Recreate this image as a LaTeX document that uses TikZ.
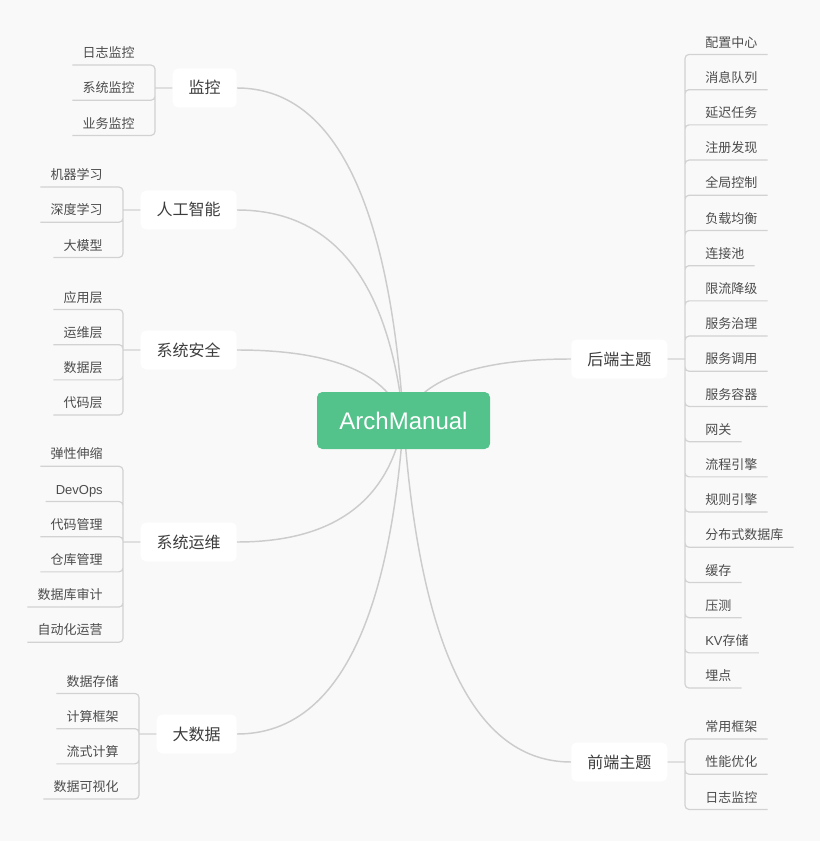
\documentclass[tikz,border=0pt]{standalone}
\usepackage{fontspec}
\setmainfont{Noto Sans CJK SC}
\newfontfamily\latfont{Liberation Sans}
\usepackage{tikz}
\usetikzlibrary{calc, backgrounds}

\definecolor{rootgreen}{RGB}{83,194,139}
\definecolor{paper}{RGB}{249,249,249}

\begin{document}
\begin{tikzpicture}[x=0.75pt, y=-0.75pt]
	\tikzstyle{root} = [fill=rootgreen, rounded corners=4pt, minimum width=129.75pt, minimum height=42.75pt, text=white, font=\latfont\fontsize{18pt}{20pt}\selectfont, text height=13pt, text depth=0pt]
	\tikzstyle{topic} = [fill=white, rounded corners=4pt, inner xsep=12pt, inner ysep=0pt, minimum height=29.25pt, text=black!76, font=\fontsize{12pt}{14pt}\selectfont, text height=9.6pt, text depth=0.6pt]
	\tikzstyle{leaf} = [inner xsep=7.5pt, inner ysep=0pt, minimum height=18pt, text=black!70, font=\fontsize{9.75pt}{11pt}\selectfont, text height=7.8pt, text depth=0.5pt]
	\tikzstyle{leafl} = [leaf, anchor=east]
	\tikzstyle{leafr} = [leaf, anchor=west]
	\tikzstyle{stem} = [draw=gray!40, line width=1.1pt]
	\tikzstyle{twig} = [draw=gray!35, line width=0.9pt, rounded corners=3pt]

	% centre and main topics
	\path
		node[root] (r) at (403.5,420.5) {ArchManual}
		node[topic, anchor=east] (b1) at (237,88) {监控}
		node[topic, anchor=east] (b2) at (237,210) {人工智能}
		node[topic, anchor=east] (b3) at (237,350) {系统安全}
		node[topic, anchor=east] (b4) at (237,542) {系统运维}
		node[topic, anchor=east] (b5) at (237,734) {大数据}
		node[topic, anchor=west] (b6) at (571,359) {后端主题}
		node[topic, anchor=west] (b7) at (571,762) {前端主题}
	;

	\begin{pgfonlayer}{background}
		\fill[paper] (0,0) rectangle (820,841);
		\draw[stem] (b1.east) .. controls ($(b1.east)+(96,0)$) and ($(r.center)+(-14.7,-221.3)$) .. (r.center);
		\draw[stem] (b2.east) .. controls ($(b2.east)+(96,0)$) and ($(r.center)+(-14.7,-140)$) .. (r.center);
		\draw[stem] (b3.east) .. controls ($(b3.east)+(96,0)$) and ($(r.center)+(-14.7,-46.7)$) .. (r.center);
		\draw[stem] (b4.east) .. controls ($(b4.east)+(96,0)$) and ($(r.center)+(-14.7,81.3)$) .. (r.center);
		\draw[stem] (b5.east) .. controls ($(b5.east)+(96,0)$) and ($(r.center)+(-14.7,209.3)$) .. (r.center);
		\draw[stem] (b6.west) .. controls ($(b6.west)+(-96,0)$) and ($(r.center)+(16,-40.7)$) .. (r.center);
		\draw[stem] (b7.west) .. controls ($(b7.west)+(-96,0)$) and ($(r.center)+(16,228)$) .. (r.center);
	\end{pgfonlayer}

	% monitoring
	\coordinate (j1) at (155,88);
	\path
		node[leafl] (b1-1) at (145,52.8) {日志监控}
		node[leafl] (b1-2) at (145,88) {系统监控}
		node[leafl] (b1-3) at (145,123.2) {业务监控}
	;
	\draw[twig] (j1) -- (b1.west) (j1) |- (b1-1.south west) (j1) |- (b1-2.south west) (j1) |- (b1-3.south west);

	% ai
	\coordinate (j2) at (123,210);
	\path
		node[leafl] (b2-1) at (113,174.8) {机器学习}
		node[leafl] (b2-2) at (113,210) {深度学习}
		node[leafl] (b2-3) at (113,245.2) {大模型}
	;
	\draw[twig] (j2) -- (b2.west) (j2) |- (b2-1.south west) (j2) |- (b2-2.south west) (j2) |- (b2-3.south west);

	% security
	\coordinate (j3) at (123,350);
	\path
		node[leafl] (b3-1) at (113,297.2) {应用层}
		node[leafl] (b3-2) at (113,332.4) {运维层}
		node[leafl] (b3-3) at (113,367.6) {数据层}
		node[leafl] (b3-4) at (113,402.8) {代码层}
	;
	\draw[twig] (j3) -- (b3.west) (j3) |- (b3-1.south west) (j3) |- (b3-2.south west) (j3) |- (b3-3.south west) (j3) |- (b3-4.south west);

	% operations
	\coordinate (j4) at (123,542);
	\path
		node[leafl] (b4-1) at (113,454) {弹性伸缩}
		node[leafl] (b4-2) at (113,489.2) {\latfont DevOps}
		node[leafl] (b4-3) at (113,524.4) {代码管理}
		node[leafl] (b4-4) at (113,559.6) {仓库管理}
		node[leafl] (b4-5) at (113,594.8) {数据库审计}
		node[leafl] (b4-6) at (113,630) {自动化运营}
	;
	\draw[twig] (j4) -- (b4.west) (j4) |- (b4-1.south west) (j4) |- (b4-2.south west) (j4) |- (b4-3.south west)
		(j4) |- (b4-4.south west) (j4) |- (b4-5.south west) (j4) |- (b4-6.south west);

	% big data
	\coordinate (j5) at (139,734);
	\path
		node[leafl] (b5-1) at (129,681.2) {数据存储}
		node[leafl] (b5-2) at (129,716.4) {计算框架}
		node[leafl] (b5-3) at (129,751.6) {流式计算}
		node[leafl] (b5-4) at (129,786.8) {数据可视化}
	;
	\draw[twig] (j5) -- (b5.west) (j5) |- (b5-1.south west) (j5) |- (b5-2.south west) (j5) |- (b5-3.south west) (j5) |- (b5-4.south west);

	% backend
	\coordinate (j6) at (685,359);
	\path
		node[leafr] (b6-1) at (695,42.2) {配置中心}
		node[leafr] (b6-2) at (695,77.4) {消息队列}
		node[leafr] (b6-3) at (695,112.6) {延迟任务}
		node[leafr] (b6-4) at (695,147.8) {注册发现}
		node[leafr] (b6-5) at (695,183) {全局控制}
		node[leafr] (b6-6) at (695,218.2) {负载均衡}
		node[leafr] (b6-7) at (695,253.4) {连接池}
		node[leafr] (b6-8) at (695,288.6) {限流降级}
		node[leafr] (b6-9) at (695,323.8) {服务治理}
		node[leafr] (b6-10) at (695,359) {服务调用}
		node[leafr] (b6-11) at (695,394.2) {服务容器}
		node[leafr] (b6-12) at (695,429.4) {网关}
		node[leafr] (b6-13) at (695,464.6) {流程引擎}
		node[leafr] (b6-14) at (695,499.8) {规则引擎}
		node[leafr] (b6-15) at (695,535) {分布式数据库}
		node[leafr] (b6-16) at (695,570.2) {缓存}
		node[leafr] (b6-17) at (695,605.4) {压测}
		node[leafr] (b6-18) at (695,640.6) {{\latfont KV}存储}
		node[leafr] (b6-19) at (695,675.8) {埋点}
	;
	\draw[twig] (j6) -- (b6.east)
		(j6) |- (b6-1.south east) (j6) |- (b6-2.south east) (j6) |- (b6-3.south east) (j6) |- (b6-4.south east)
		(j6) |- (b6-5.south east) (j6) |- (b6-6.south east) (j6) |- (b6-7.south east) (j6) |- (b6-8.south east)
		(j6) |- (b6-9.south east) (j6) |- (b6-10.south east) (j6) |- (b6-11.south east) (j6) |- (b6-12.south east)
		(j6) |- (b6-13.south east) (j6) |- (b6-14.south east) (j6) |- (b6-15.south east) (j6) |- (b6-16.south east)
		(j6) |- (b6-17.south east) (j6) |- (b6-18.south east) (j6) |- (b6-19.south east);

	% frontend
	\coordinate (j7) at (685,762);
	\path
		node[leafr] (b7-1) at (695,726.8) {常用框架}
		node[leafr] (b7-2) at (695,762) {性能优化}
		node[leafr] (b7-3) at (695,797.2) {日志监控}
	;
	\draw[twig] (j7) -- (b7.east) (j7) |- (b7-1.south east) (j7) |- (b7-2.south east) (j7) |- (b7-3.south east);
\end{tikzpicture}
\end{document}
